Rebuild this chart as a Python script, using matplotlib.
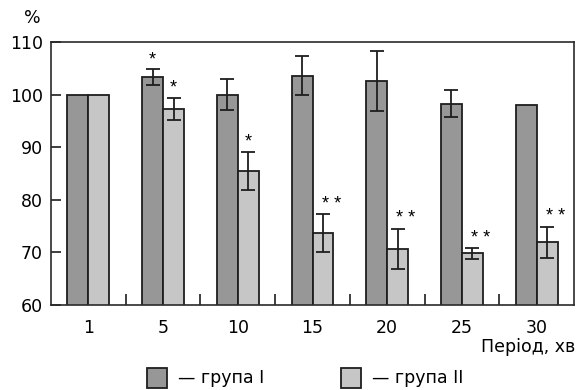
import matplotlib
matplotlib.use("Agg")
import matplotlib.pyplot as plt
from matplotlib.patches import Rectangle
import numpy as np

periods = ["1", "5", "10", "15", "20", "25", "30"]
group1 = [100, 103.3, 100, 103.6, 102.6, 98.3, 98.0]
group1_err = [0, 1.5, 3.0, 3.7, 5.7, 2.6, 0]
group2 = [100, 97.3, 85.5, 73.7, 70.7, 69.8, 71.9]
group2_err = [0, 2.1, 3.6, 3.6, 3.8, 1.0, 3.0]
marks1 = ["", "*", "", "", "", "", ""]
marks2 = ["", "*", "*", "* *", "* *", "* *", "* *"]

dark = "#979797"
light = "#c6c6c6"
edge = "#1e1e1e"

plt.rcParams["font.family"] = ["DejaVu Sans"]
fs = 12.5

fig = plt.figure(figsize=(5.77, 3.90), dpi=100)
ax = fig.add_axes([0.0884, 0.218, 0.9064, 0.674])

x = np.arange(len(periods))
w = 0.28
ax.bar(x - w / 2, group1, w, color=dark, edgecolor=edge, linewidth=1.3, zorder=2)
ax.bar(x + w / 2, group2, w, color=light, edgecolor=edge, linewidth=1.3, zorder=2)

for i in range(len(x)):
    if group1_err[i] > 0:
        ax.errorbar(x[i] - w / 2, group1[i], yerr=group1_err[i], fmt="none",
                    ecolor=edge, elinewidth=1.3, capsize=4.8, capthick=1.3, zorder=3)
    if group2_err[i] > 0:
        ax.errorbar(x[i] + w / 2, group2[i], yerr=group2_err[i], fmt="none",
                    ecolor=edge, elinewidth=1.3, capsize=4.8, capthick=1.3, zorder=3)
    if marks1[i]:
        ax.annotate(marks1[i], (x[i] - w / 2, group1[i] + group1_err[i]),
                    xytext=(0, 1), textcoords="offset points",
                    ha="center", va="bottom", fontsize=13,
                    family="Liberation Sans")
    if marks2[i]:
        dx = 6 if len(marks2[i]) > 1 else 0
        ax.annotate(marks2[i], (x[i] + w / 2, group2[i] + group2_err[i]),
                    xytext=(dx, 1), textcoords="offset points",
                    ha="center", va="bottom", fontsize=13,
                    family="Liberation Sans")

ax.set_xlim(-0.5, len(periods) - 0.5)
ax.set_ylim(60, 110)
ax.set_yticks([60, 70, 80, 90, 100, 110])
ax.set_xticks(x)
ax.set_xticklabels(periods)
ax.set_xticks(x[:-1] + 0.5, minor=True)
ax.tick_params(axis="x", which="major", length=0, pad=10, labelsize=fs)
ax.tick_params(axis="x", which="minor", direction="in", length=8, width=1.2, color=edge)
ax.tick_params(axis="y", direction="in", length=7.5, width=1.2, color=edge, pad=6, labelsize=fs)
for s in ax.spines.values():
    s.set_linewidth(1.2)
    s.set_color("#2a2a2a")

fig.text(32 / 577, 1 - 18 / 390, "%", fontsize=fs, ha="center", va="center")
fig.text(575 / 577, 1 - 347 / 390, "Період, хв", fontsize=fs, ha="right", va="center")

# legend
for sx, col, lab in [(147, dark, "— група I"), (341, light, "— група II")]:
    fig.patches.append(Rectangle((sx / 577, 1 - 388 / 390), 20 / 577, 20 / 390,
                                 transform=fig.transFigure, facecolor=col,
                                 edgecolor=edge, linewidth=1.3))
    fig.text((sx + 31) / 577, 1 - 378 / 390, lab, fontsize=fs, ha="left", va="center")

fig.savefig("out.png", dpi=100)
